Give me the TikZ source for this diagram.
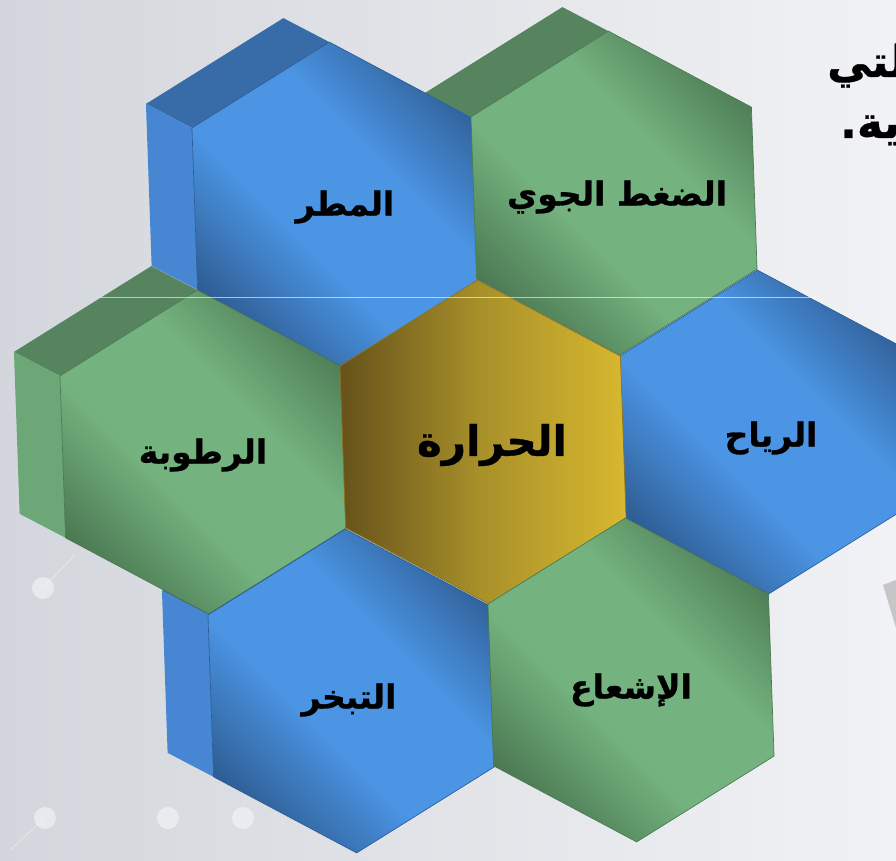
\documentclass[tikz,border=0pt]{standalone}
\usepackage{fontspec}
\usetikzlibrary{calc}
\newfontfamily\arabicfont[Script=Arabic, BoldFont={DejaVu Sans Bold}, BoldFeatures={FakeBold=0.8}]{DejaVu Sans}
\TeXXeTstate=1
\definecolor{bdark}{HTML}{2E5C92}
\definecolor{blight}{HTML}{4B95E4}
\definecolor{btop}{HTML}{386CA8}
\definecolor{bside}{HTML}{4686D2}
\definecolor{bedge}{HTML}{2C5F9C}
\definecolor{gdark}{HTML}{4B7852}
\definecolor{glight}{HTML}{74B37F}
\definecolor{gtop}{HTML}{56845E}
\definecolor{gside}{HTML}{6CA877}
\definecolor{gedge}{HTML}{4A7B52}
\definecolor{golddark}{HTML}{66521B}
\definecolor{goldmid}{HTML}{A9912A}
\definecolor{goldlight}{HTML}{D8B82F}
\definecolor{goldedge}{HTML}{8C7520}
\definecolor{bgl}{HTML}{D3D6DC}
\definecolor{bgr}{HTML}{F1F2F5}
\pgfdeclarehorizontalshading{bluefront}{100bp}{color(0bp)=(bdark); color(24bp)=(bdark); color(42bp)=(blight); color(60bp)=(blight); color(78bp)=(bdark); color(100bp)=(bdark)}
\pgfdeclarehorizontalshading{greenfront}{100bp}{color(0bp)=(gdark); color(24bp)=(gdark); color(42bp)=(glight); color(60bp)=(glight); color(78bp)=(gdark); color(100bp)=(gdark)}
\tikzset{
  bluehex/.style={shading=bluefront, shading angle=45, draw=bedge, line width=0.7pt},
  greenhex/.style={shading=greenfront, shading angle=45, draw=gedge, line width=0.7pt},
  goldhex/.style={left color=golddark, right color=goldlight, middle color=goldmid, draw=goldedge, line width=0.7pt},
  hexlabel/.style={font=\arabicfont\bfseries\fontsize{33}{38}\selectfont, text=black, inner sep=0pt},
  biglabel/.style={font=\arabicfont\bfseries\fontsize{42}{48}\selectfont, text=black, inner sep=0pt},
  titletext/.style={font=\arabicfont\bfseries\fontsize{44}{52}\selectfont, text=black, inner sep=0pt, anchor=base west}
}
% front face of a hexagon: centre x, centre y (pixels, y down), style
\newcommand\hexfront[3]{%
  \path[#3,shift={(#1,-#2)}] (32:162pt)--(92:162pt)--(152:162pt)--(212:162pt)--(272:162pt)--(332:162pt)--cycle;}
% depth of a hexagon: centre x, centre y, top colour, side colour
\newcommand\hexdepth[4]{%
  \begin{scope}[shift={(#1,-#2)}]
    \fill[#3] (92:162pt) -- (152:162pt) -- ($(152:162pt)+(-46pt,24pt)$) -- ($(92:162pt)+(-46pt,24pt)$) -- cycle;
    \fill[#4] (152:162pt) -- (212:162pt) -- ($(212:162pt)+(-46pt,24pt)$) -- ($(152:162pt)+(-46pt,24pt)$) -- cycle;
  \end{scope}}
\begin{document}
\begin{tikzpicture}[x=1pt,y=1pt]
\useasboundingbox (0,0) rectangle (896,-861);
\clip (0,0) rectangle (896,-861);
% background
\shade[left color=bgl, right color=bgr] (0,0) rectangle (896,-861);
\foreach \p in {(43,-588),(45,-818),(168,-818),(243,-818)}
  \fill[white, opacity=0.45] \p circle (11pt);
\draw[white, opacity=0.35, line width=1pt] (43,-588) -- (75,-555);
\draw[white, opacity=0.35, line width=1pt] (45,-818) -- (10,-850);
\fill[gray!45] (883,-585) -- (896,-580) -- (896,-628) -- cycle;
% depth faces
\hexdepth{335}{204}{btop}{bside}
\hexdepth{614}{193}{gtop}{gside}
\hexdepth{203}{452}{gtop}{gside}
\hexdepth{351}{691}{btop}{bside}
% front faces
\hexfront{335}{204}{bluehex}
\hexfront{614}{193}{greenhex}
\hexfront{763}{432}{bluehex}
\hexfront{203}{452}{greenhex}
\hexfront{483}{442}{goldhex}
\hexfront{351}{691}{bluehex}
\hexfront{631}{680}{greenhex}
% labels
\node[hexlabel] (rain) at (345,-207) {\beginR المطر\endR};
\node[hexlabel] (pressure) at (617,-197) {\beginR الضغط الجوي\endR};
\node[hexlabel] (wind) at (771,-438) {\beginR الرياح\endR};
\node[biglabel] (heat) at (492,-445) {\beginR الحرارة\endR};
\node[hexlabel] (humidity) at (203,-455) {\beginR الرطوبة\endR};
\node[hexlabel] (evap) at (349,-700) {\beginR التبخر\endR};
\node[hexlabel] (rad) at (631,-690) {\beginR الإشعاع\endR};
% faint line
\draw[white, opacity=0.6, line width=0.8pt] (100,-297) -- (817,-297);
% clipped title
\node[titletext] (title1) at (827,-77) {\beginR التي\endR};
\node[titletext] (title2) at (840,-138) {\beginR الجوية.\endR};
\end{tikzpicture}
\end{document}
